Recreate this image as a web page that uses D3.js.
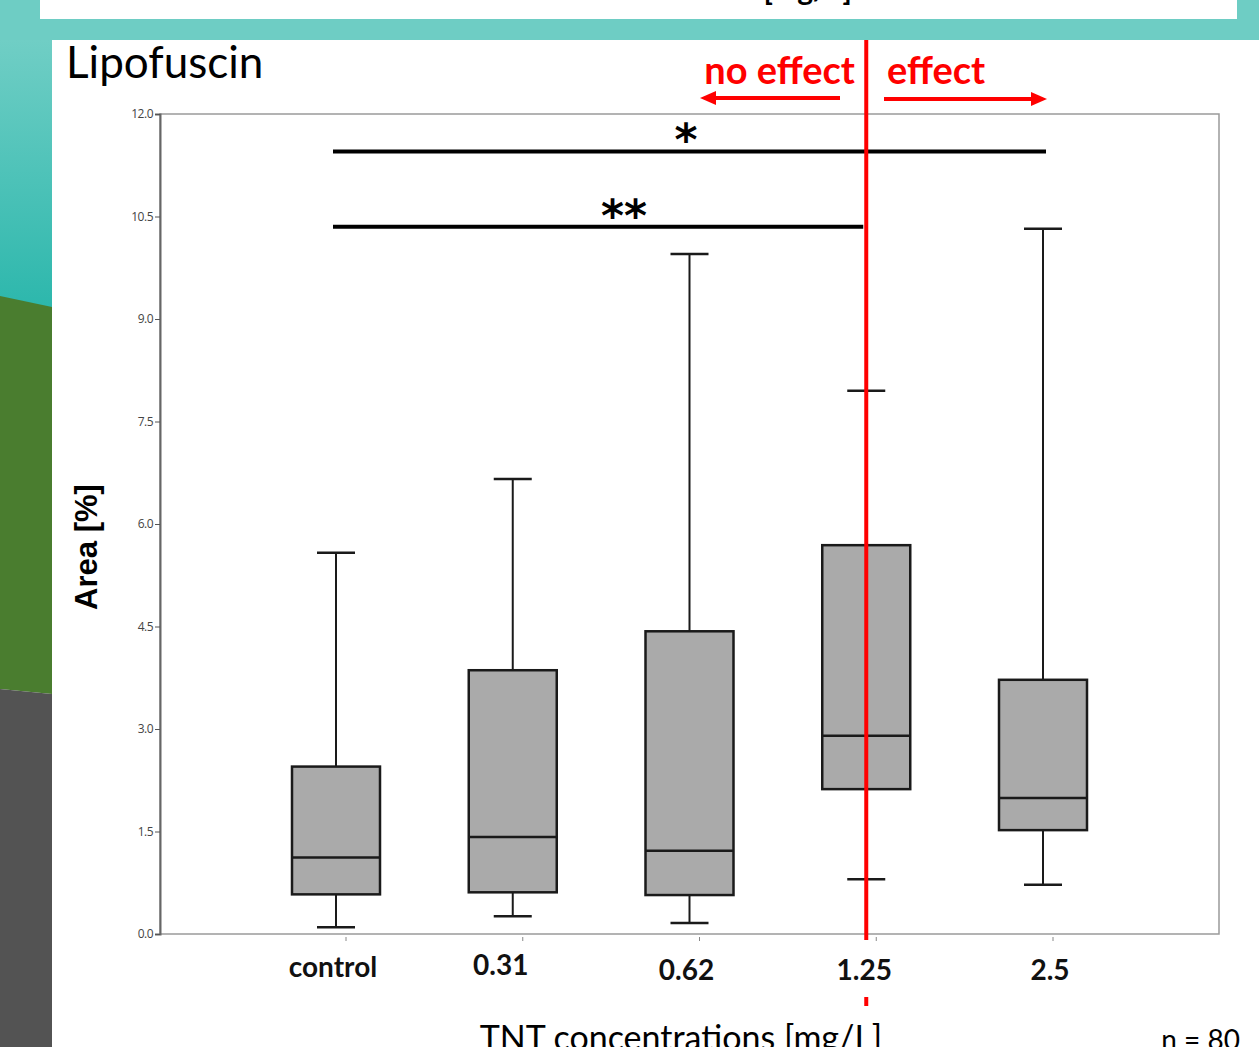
<!DOCTYPE html>
<html><head><meta charset="utf-8">
<script src="https://cdn.jsdelivr.net/npm/d3@7"></script>
<style>html,body{margin:0;padding:0;background:#fff;overflow:hidden}</style>
</head><body>
<svg id="c" width="1259" height="1047"></svg>
<script>
// ---- data ----
const categories = ["control", "0.31", "0.62", "1.25", "2.5"];
const whiskerLow  = [0.10, 0.26, 0.16, 0.80, 0.72];
const q1          = [0.58, 0.61, 0.57, 2.12, 1.52];
const median      = [1.12, 1.42, 1.22, 2.90, 1.99];
const q3          = [2.45, 3.86, 4.43, 5.69, 3.72];
const whiskerHigh = [5.58, 6.66, 9.95, 7.95, 10.32];
const yTicks = [0, 1.5, 3, 4.5, 6, 7.5, 9, 10.5, 12];
const sigFrom  = ["control", "control"];
const sigTo    = ["2.5", "1.25"];
const sigLevel = [11.45, 10.35];
const sigLabel = ["*", "**"];
const effectCategory = "1.25";

const svg = d3.select("#c");
const W = 1259, H = 1047;

// ---- background slide decoration ----
const defs = svg.append("defs");
const g1 = defs.append("linearGradient").attr("id","tealg").attr("x1",0).attr("y1",0).attr("x2",0).attr("y2",1);
g1.append("stop").attr("offset","0%").attr("stop-color","#70cec5");
g1.append("stop").attr("offset","100%").attr("stop-color","#2cb7ac");
svg.append("rect").attr("x",0).attr("y",0).attr("width",W).attr("height",40).attr("fill","#6ecdc4");
svg.append("rect").attr("x",40).attr("y",0).attr("width",1197).attr("height",19).attr("fill","#fff");
svg.append("text").attr("x",852).attr("y",0).attr("text-anchor","end")
  .attr("font-family","Lato, sans-serif").attr("font-size",30).attr("font-weight","bold").attr("fill","#000")
  .text("TNT concentrations [mg/L]");
svg.append("rect").attr("x",0).attr("y",40).attr("width",52).attr("height",270).attr("fill","url(#tealg)");
svg.append("polygon").attr("points","0,296 52,307 52,694 0,689").attr("fill","#4a7d2f");
svg.append("polygon").attr("points","0,689 52,694 52,1047 0,1047").attr("fill","#535353");
svg.append("rect").attr("x",52).attr("y",40).attr("width",W-52).attr("height",H-40).attr("fill","#fff");

// ---- scales ----
const y = d3.scaleLinear().domain([0,12]).range([934,114]);
const x = d3.scalePoint().domain(categories).range([336,1043]);
const plotL = 160, plotR = 1219;

// frame
svg.append("rect").attr("x",plotL).attr("y",y(12)).attr("width",plotR-plotL).attr("height",y(0)-y(12))
  .attr("fill","none").attr("stroke","#9a9a9a").attr("stroke-width",1.5);

// y axis
const yAxis = svg.append("g").attr("transform",`translate(${plotL},0)`)
  .call(d3.axisLeft(y).tickValues(yTicks).tickFormat(d3.format(".1f")).tickSize(5).tickPadding(2));
yAxis.select(".domain").attr("stroke","#666").attr("stroke-width",2);
yAxis.selectAll(".tick line").attr("stroke","#555");
yAxis.selectAll(".tick text").attr("font-family","'Open Sans', sans-serif").attr("font-size",12).attr("fill","#444").attr("letter-spacing","-0.5");

// x ticks (small marks)
svg.append("g").selectAll("line").data(categories).join("line")
  .attr("x1",d=>x(d)+10).attr("x2",d=>x(d)+10).attr("y1",937).attr("y2",941)
  .attr("stroke","#888").attr("stroke-width",1);

// boxes
const boxW = 88, capW = 38;
const data = categories.map((c,i)=>({c, lo:whiskerLow[i], q1:q1[i], med:median[i], q3:q3[i], hi:whiskerHigh[i]}));
const bx = svg.append("g");
data.forEach(d=>{
  const cx = x(d.c);
  const g = bx.append("g").attr("stroke","#1a1a1a");
  g.append("line").attr("x1",cx).attr("x2",cx).attr("y1",y(d.hi)).attr("y2",y(d.q3)).attr("stroke-width",2);
  g.append("line").attr("x1",cx).attr("x2",cx).attr("y1",y(d.q1)).attr("y2",y(d.lo)).attr("stroke-width",2);
  g.append("line").attr("x1",cx-capW/2).attr("x2",cx+capW/2).attr("y1",y(d.hi)).attr("y2",y(d.hi)).attr("stroke-width",2.5);
  g.append("line").attr("x1",cx-capW/2).attr("x2",cx+capW/2).attr("y1",y(d.lo)).attr("y2",y(d.lo)).attr("stroke-width",2.5);
  g.append("rect").attr("x",cx-boxW/2).attr("y",y(d.q3)).attr("width",boxW).attr("height",y(d.q1)-y(d.q3))
    .attr("fill","#aaaaaa").attr("stroke-width",2.5);
  g.append("line").attr("x1",cx-boxW/2).attr("x2",cx+boxW/2).attr("y1",y(d.med)).attr("y2",y(d.med)).attr("stroke-width",2.5);
});

// x labels
svg.append("g").selectAll("text").data(categories).join("text")
  .attr("x",(d,i)=>x(d)+[-3,-12,-3,-2,7][i]).attr("y",(d,i)=>[977,975,980,980,980][i])
  .attr("text-anchor","middle").attr("font-family","Lato, sans-serif").attr("font-weight","bold")
  .attr("font-size",28).attr("fill","#111").text(d=>d);

// significance bars
sigLevel.forEach((lv,i)=>{
  const x1 = x(sigFrom[i])-3, x2 = x(sigTo[i])+ (sigTo[i]===effectCategory ? -3 : 3);
  svg.append("line").attr("x1",x1).attr("x2",x2).attr("y1",y(lv)).attr("y2",y(lv))
    .attr("stroke","#000").attr("stroke-width",4);
});
svg.append("text").attr("x",686).attr("y",155).attr("text-anchor","middle")
  .attr("font-family","'DejaVu Sans', sans-serif").attr("font-weight","bold").attr("font-size",44).attr("fill","#000").text(sigLabel[0]);
svg.append("text").attr("x",624).attr("y",231).attr("text-anchor","middle")
  .attr("font-family","'DejaVu Sans', sans-serif").attr("font-weight","bold").attr("font-size",44).attr("fill","#000").text(sigLabel[1]);

// red effect line
const ex = x(effectCategory);
svg.append("line").attr("x1",ex).attr("x2",ex).attr("y1",40).attr("y2",940).attr("stroke","#ff0000").attr("stroke-width",4);
svg.append("line").attr("x1",ex).attr("x2",ex).attr("y1",997).attr("y2",1006).attr("stroke","#ff0000").attr("stroke-width",4);

// effect annotations
svg.append("text").attr("x",855).attr("y",84).attr("text-anchor","end")
  .attr("font-family","Lato, sans-serif").attr("font-weight","bold").attr("font-size",38).attr("fill","#ff0000").text("no effect");
svg.append("text").attr("x",887).attr("y",84).attr("text-anchor","start")
  .attr("font-family","Lato, sans-serif").attr("font-weight","bold").attr("font-size",38).attr("fill","#ff0000").text("effect");
svg.append("line").attr("x1",840).attr("x2",712).attr("y1",98).attr("y2",98).attr("stroke","#ff0000").attr("stroke-width",4);
svg.append("polygon").attr("points","700,98 716,91 716,105").attr("fill","#ff0000");
svg.append("line").attr("x1",884).attr("x2",1034).attr("y1",99).attr("y2",99).attr("stroke","#ff0000").attr("stroke-width",4);
svg.append("polygon").attr("points","1047,99 1031,92 1031,106").attr("fill","#ff0000");

// titles
svg.append("text").attr("x",66).attr("y",78).attr("font-family","Lato, sans-serif").attr("font-size",44).attr("fill","#000").text("Lipofuscin");
svg.append("text").attr("transform","translate(97,547) rotate(-90)").attr("text-anchor","middle")
  .attr("font-family","'Liberation Sans', Arial, sans-serif").attr("font-weight","bold").attr("font-size",31).attr("fill","#000").text("Area [%]");
svg.append("text").attr("x",681).attr("y",1050).attr("text-anchor","middle")
  .attr("font-family","Lato, sans-serif").attr("font-size",34).attr("fill","#000").text("TNT concentrations [mg/L]");
svg.append("text").attr("x",1240).attr("y",1050).attr("text-anchor","end")
  .attr("font-family","Lato, sans-serif").attr("font-size",28).attr("fill","#000").text("n = 80");
</script>
</body></html>
